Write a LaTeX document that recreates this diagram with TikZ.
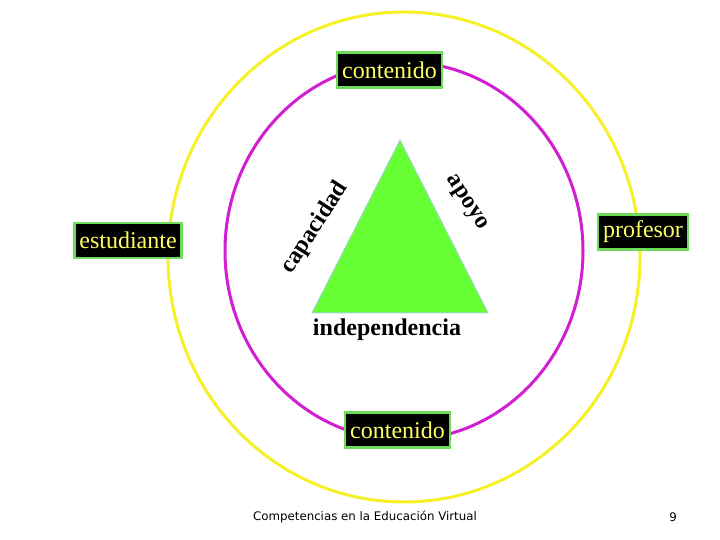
\documentclass[tikz,border=0pt]{standalone}
\usepackage{fontspec}
\setmainfont{Liberation Serif}
\newfontfamily\footfont{DejaVu Sans}
\usepackage{xcolor}
\definecolor{RingYellow} {RGB}{245, 240,  40}
\definecolor{RingMagenta}{RGB}{210,  30, 210}
\definecolor{BoxGreen}   {RGB}{110, 220,  90}
\definecolor{BoxText}    {RGB}{255, 255, 100}
\definecolor{TriGreen}   {RGB}{102, 255,  51}
\definecolor{TriEdge}    {RGB}{160, 215, 200}
\usepackage{tikz}
\usetikzlibrary{positioning}

\begin{document}
\begin{tikzpicture}[
  x=1pt, y=1pt,
  term/.style={draw=BoxGreen, line width=2.5pt, fill=black, text=BoxText,
               font=\fontsize{24}{26}\selectfont, inner xsep=5pt,
               minimum height=35pt},
  side/.style={font=\fontsize{24}{26}\selectfont\bfseries},
  ring/.style={line width=3pt}
]
  \useasboundingbox (0,0) rectangle (720,540);

  % rings
  \draw[ring, RingYellow]  (404,283) ellipse [x radius=236, y radius=245];
  \draw[ring, RingMagenta] (404,289) ellipse [x radius=179, y radius=189];

  % triangle
  \coordinate (apex) at (400,400);
  \coordinate (bl)   at (312,227);
  \coordinate (br)   at (488,227);
  \fill[TriGreen] (apex) -- (bl) -- (br) -- cycle;
  \draw[TriEdge, line width=1pt] (apex) -- (bl) -- (br) -- cycle;

  \node[side] (indep) at (387,210) {independencia};
  \node[side, rotate=57]  (capac) at (315,312) {capacidad};
  \node[side, rotate=-57] (apoyo) at (466,337) {apoyo};

  % terms
  \node[term] (topc) at (389.5,470) {contenido};
  \node[term] (estu) at (128,299.5) {estudiante};
  \node[term] (prof) at (643,308)   {profesor};
  \node[term] (botc) at (397.5,110) {contenido};

  % footer
  \node[font=\footfont\fontsize{11.8}{14}\selectfont] (foot) at (365,23)
    {Competencias en la Educación Virtual};
  \node[font=\footfont\fontsize{11.8}{14}\selectfont] (page) at (673,23) {9};
\end{tikzpicture}
\end{document}
